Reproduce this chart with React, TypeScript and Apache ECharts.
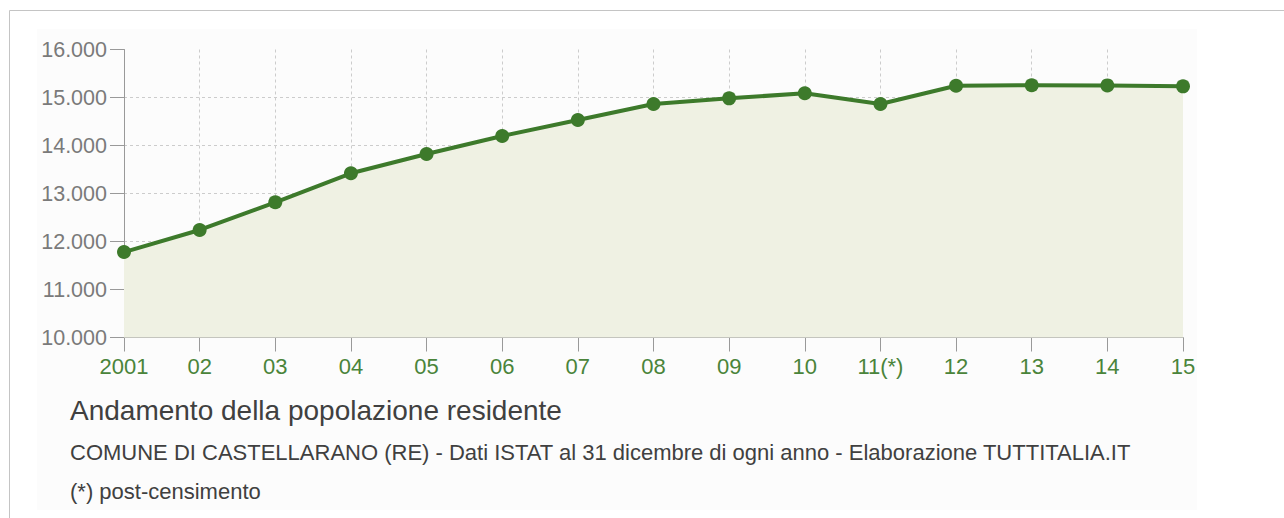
import React, { useEffect, useRef } from "react";
import * as echarts from "echarts";

const categories = ["2001", "02", "03", "04", "05", "06", "07", "08", "09", "10", "11(*)", "12", "13", "14", "15"];
const population = [11780, 12240, 12817, 13421, 13823, 14198, 14531, 14865, 14983, 15088, 14865, 15246, 15255, 15252, 15233];
const yMin = 10000;
const yMax = 16000;
const yStep = 1000;
const titleText = "Andamento della popolazione residente";
const subtitleText = "COMUNE DI CASTELLARANO (RE) - Dati ISTAT al 31 dicembre di ogni anno - Elaborazione TUTTITALIA.IT";
const noteText = "(*) post-censimento";

const FONT = "'Liberation Sans', Arial, Helvetica, sans-serif";

function fmt(v: number): string {
  return String(v).replace(/\B(?=(\d{3})+(?!\d))/g, ".");
}

export default function App() {
  const ref = useRef<HTMLDivElement>(null);
  useEffect(() => {
    if (!ref.current) return;
    const chart = echarts.init(ref.current, undefined, { renderer: "svg" });
    const nY = (yMax - yMin) / yStep + 1;
    const yGridColors = Array.from({ length: nY }, (_, i) => (i === 0 || i === nY - 1 ? "rgba(0,0,0,0)" : "#cccccc"));
    const xGridColors = categories.map((_, i) => (i === 0 || i === categories.length - 1 ? "rgba(0,0,0,0)" : "#cccccc"));
    chart.setOption({
      animation: false,
      backgroundColor: "#ffffff",
      textStyle: { fontFamily: FONT },
      grid: { left: 124, right: 101, top: 49.5, bottom: 180.5, containLabel: false },
      graphic: [
        { type: "line", shape: { x1: 9.5, y1: 10.5, x2: 1284, y2: 10.5 }, style: { stroke: "#c4c4c4", lineWidth: 1 }, z: -10 },
        { type: "line", shape: { x1: 9.5, y1: 10.5, x2: 9.5, y2: 518 }, style: { stroke: "#c4c4c4", lineWidth: 1 }, z: -10 },
        { type: "rect", shape: { x: 37, y: 29, width: 1160, height: 481 }, style: { fill: "#fcfcfc" }, z: -20 },
        { type: "text", x: 70, y: 410, style: { text: titleText, font: `28px ${FONT}`, fill: "#404040", textVerticalAlign: "middle" } },
        { type: "text", x: 70, y: 452, style: { text: subtitleText, font: `22px ${FONT}`, fill: "#404040", textVerticalAlign: "middle" } },
        { type: "text", x: 70, y: 491, style: { text: noteText, font: `22px ${FONT}`, fill: "#404040", textVerticalAlign: "middle" } },
      ],
      xAxis: {
        type: "category",
        data: categories,
        boundaryGap: false,
        axisLine: { show: true, lineStyle: { color: "#999999", width: 1 } },
        axisTick: { show: true, length: 14, lineStyle: { color: "#999999" } },
        axisLabel: { color: "#4a843a", fontSize: 22, margin: 18, fontFamily: FONT },
        splitLine: { show: true, lineStyle: { type: [3, 3], color: xGridColors, width: 1 } },
      },
      yAxis: {
        type: "value",
        min: yMin,
        max: yMax,
        interval: yStep,
        axisLine: { show: true, lineStyle: { color: "#999999", width: 1 } },
        axisTick: { show: true, length: 14, lineStyle: { color: "#999999" } },
        axisLabel: { color: "#7a7a7a", fontSize: 21.5, margin: 17, fontFamily: FONT, formatter: (v: number) => fmt(v) },
        splitLine: { show: true, lineStyle: { type: [3, 3], color: yGridColors, width: 1 } },
      },
      series: [
        {
          type: "line",
          data: population,
          symbol: "circle",
          symbolSize: 14,
          lineStyle: { color: "#3d7a2b", width: 4 },
          itemStyle: { color: "#3d7a2b" },
          areaStyle: { color: "#eff1e3", origin: "start", opacity: 1 },
          z: 3,
        },
      ],
    });
    return () => chart.dispose();
  }, []);
  return <div ref={ref} style={{ position: "fixed", left: 0, top: 0, width: 1284, height: 518 }} />;
}
